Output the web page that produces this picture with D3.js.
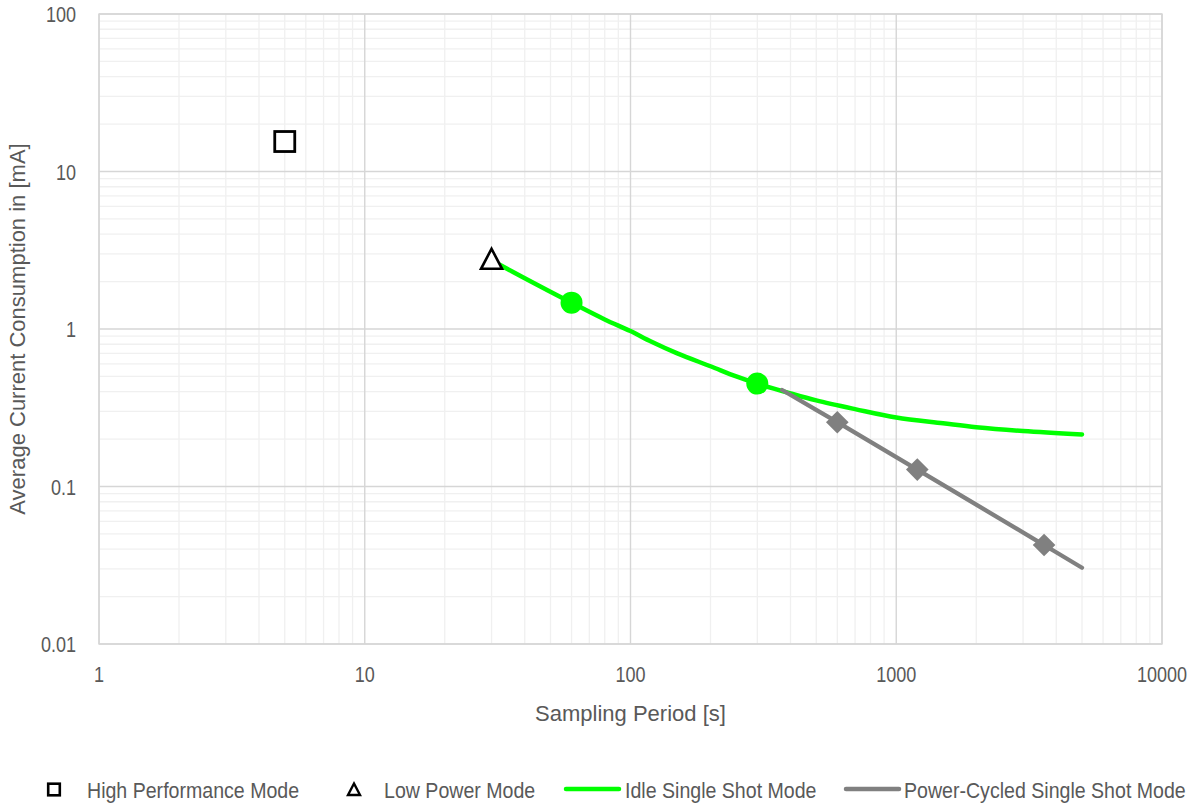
<!DOCTYPE html>
<html>
<head>
<meta charset="utf-8">
<script src="https://cdn.jsdelivr.net/npm/d3@7"></script>
<style>
  body { margin: 0; background: #fff; }
  text { font-family: "Liberation Sans", Arial, sans-serif; fill: #595959; font-size: 22px; }
</style>
</head>
<body>
<div id="chart"></div>
<script>
// Dados
const xTicks = [1, 10, 100, 1000, 10000];
const yTicks = [0.01, 0.1, 1, 10, 100];
const xTickLabels = ["1", "10", "100", "1000", "10000"];
const yTickLabels = ["0.01", "0.1", "1", "10", "100"];

const highPerf = [[5, 15.5]];
const lowPower = [[30, 2.73]];

const idlePeriod = [30, 40, 60, 80, 100, 120, 150, 200, 250, 300, 400, 500, 700, 1000, 1500, 2000, 3000, 5000];
const idleCurrent = [2.73, 2.1, 1.47, 1.15, 0.97, 0.83, 0.70, 0.58, 0.50, 0.45, 0.39, 0.352, 0.31, 0.274, 0.252, 0.238, 0.225, 0.214];
const idleMarkers = [[60, 1.47], [300, 0.45]];

const cycledPeriod = [372, 600, 1200, 3600, 5000];
const cycledCurrent = [0.41, 0.256, 0.128, 0.0425, 0.0305];
const cycledMarkers = [[600, 0.256], [1200, 0.128], [3600, 0.0425]];

const legendItems = [
  { label: "High Performance Mode", type: "square", x: 54, tx: 87 },
  { label: "Low Power Mode", type: "triangle", x: 354, tx: 384 },
  { label: "Idle Single Shot Mode", type: "line", color: "#00ff00", x: 566, tx: 625 },
  { label: "Power-Cycled Single Shot Mode", type: "line", color: "#808080", x: 846, tx: 904 }
];

// Definições do gráfico
const W = 1190, H = 805;
const margin = { top: 14, right: 28, bottom: 161, left: 99 };
const width = W - margin.left - margin.right;
const height = H - margin.top - margin.bottom;

const svg = d3.select("#chart").append("svg")
  .attr("width", W)
  .attr("height", H);

const g = svg.append("g")
  .attr("transform", `translate(${margin.left},${margin.top})`);

// texto comprimido horizontalmente (fonte estreita)
function narrowText(parent, x, y, str, sx, anchor) {
  return parent.append("text")
    .attr("transform", `translate(${x},${y}) scale(${sx},1)`)
    .attr("text-anchor", anchor || "start")
    .text(str);
}

// Escalas
const x = d3.scaleLog().domain([1, 10000]).range([0, width]);
const y = d3.scaleLog().domain([0.01, 100]).range([height, 0]);

// Grade menor
const minorX = [], minorY = [];
for (let d = 1; d < 10000; d *= 10) for (let k = 2; k <= 9; k++) minorX.push(d * k);
for (let d = 0.01; d < 100; d *= 10) for (let k = 2; k <= 9; k++) minorY.push(d * k);

g.selectAll(".minor-x").data(minorX).enter().append("line")
  .attr("x1", d => x(d)).attr("x2", d => x(d))
  .attr("y1", 0).attr("y2", height)
  .attr("stroke", "#f0f0f0").attr("stroke-width", 1.3);

g.selectAll(".minor-y").data(minorY).enter().append("line")
  .attr("x1", 0).attr("x2", width)
  .attr("y1", d => y(d)).attr("y2", d => y(d))
  .attr("stroke", "#f0f0f0").attr("stroke-width", 1.3);

// Grade maior
g.selectAll(".major-x").data(xTicks).enter().append("line")
  .attr("x1", d => x(d)).attr("x2", d => x(d))
  .attr("y1", 0).attr("y2", height)
  .attr("stroke", "#d6d6d6").attr("stroke-width", 1.4);

g.selectAll(".major-y").data(yTicks).enter().append("line")
  .attr("x1", 0).attr("x2", width)
  .attr("y1", d => y(d)).attr("y2", d => y(d))
  .attr("stroke", "#d6d6d6").attr("stroke-width", 1.4);

// Rótulos dos ticks
xTicks.forEach((t, i) => narrowText(g, x(t), height + 38, xTickLabels[i], 0.82, "middle"));
yTicks.forEach((t, i) => narrowText(g, -23, y(t) + 8, yTickLabels[i], 0.82, "end"));

// Linhas
const line = d3.line()
  .x(d => x(d[0]))
  .y(d => y(d[1]))
  .curve(d3.curveCatmullRom.alpha(0.5));

g.append("path")
  .datum(idlePeriod.map((p, i) => [p, idleCurrent[i]]))
  .attr("fill", "none")
  .attr("stroke", "#00ff00")
  .attr("stroke-width", 4.5)
  .attr("stroke-linecap", "round")
  .attr("d", line);

g.append("path")
  .datum(cycledPeriod.map((p, i) => [p, cycledCurrent[i]]))
  .attr("fill", "none")
  .attr("stroke", "#808080")
  .attr("stroke-width", 4.3)
  .attr("stroke-linecap", "round")
  .attr("d", line);

// Marcadores
g.selectAll(".idle-dot").data(idleMarkers).enter().append("circle")
  .attr("cx", d => x(d[0])).attr("cy", d => y(d[1]))
  .attr("r", 11).attr("fill", "#00ff00");

g.selectAll(".cyc-dot").data(cycledMarkers).enter().append("path")
  .attr("transform", d => `translate(${x(d[0])},${y(d[1])}) rotate(45)`)
  .attr("d", "M-8,-8H8V8H-8Z")
  .attr("fill", "#808080");

g.selectAll(".hp").data(highPerf).enter().append("rect")
  .attr("x", d => x(d[0]) - 10).attr("y", d => y(d[1]) - 10)
  .attr("width", 20).attr("height", 20)
  .attr("fill", "#fff").attr("stroke", "#000").attr("stroke-width", 2.8);

g.selectAll(".lp").data(lowPower).enter().append("path")
  .attr("transform", d => `translate(${x(d[0])},${y(d[1])})`)
  .attr("d", "M0,-11.5L10.5,8.5H-10.5Z")
  .attr("fill", "#fff").attr("stroke", "#000").attr("stroke-width", 2.6)
  .attr("stroke-linejoin", "miter");

// Moldura
g.append("rect")
  .attr("width", width).attr("height", height)
  .attr("fill", "none").attr("stroke", "#d6d6d6").attr("stroke-width", 1.4);

// Labels dos eixos
svg.append("text")
  .attr("x", margin.left + x(100))
  .attr("y", 721)
  .attr("text-anchor", "middle")
  .text("Sampling Period [s]");

svg.append("text")
  .attr("transform", `translate(25,${margin.top + y(1)}) rotate(-90)`)
  .attr("text-anchor", "middle")
  .text("Average Current Consumption in [mA]");

// Legenda
const ly = 789.5;
const leg = svg.append("g");
legendItems.forEach(it => {
  const gi = leg.append("g");
  if (it.type === "square") {
    gi.append("rect").attr("x", it.x - 5.8).attr("y", ly - 5.8).attr("width", 11.6).attr("height", 11.6)
      .attr("fill", "#fff").attr("stroke", "#000").attr("stroke-width", 2.6);
  } else if (it.type === "triangle") {
    gi.append("path").attr("transform", `translate(${it.x},${ly})`).attr("d", "M0,-6L6,5.5H-6Z")
      .attr("fill", "#fff").attr("stroke", "#000").attr("stroke-width", 2.4);
  } else {
    gi.append("line").attr("x1", it.x).attr("x2", it.x + 53).attr("y1", ly - 0.5).attr("y2", ly - 0.5)
      .attr("stroke", it.color).attr("stroke-width", 4.5).attr("stroke-linecap", "round");
  }
  narrowText(gi, it.tx, ly + 8, it.label, 0.89);
});
</script>
</body>
</html>
